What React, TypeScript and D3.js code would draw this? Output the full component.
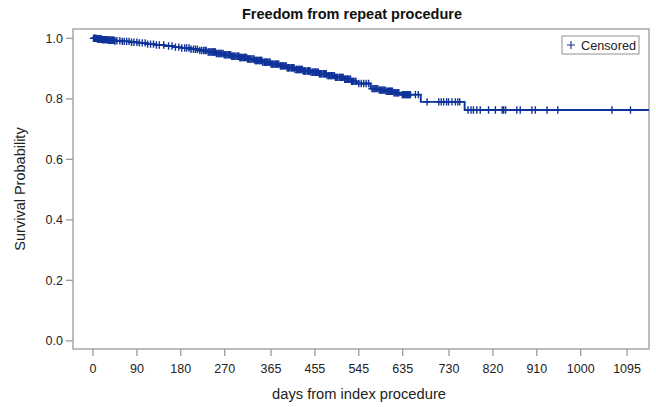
import React from "react";
import * as d3 from "d3";

// ---- data ----
const eventDays = [0, 8, 18, 30, 44, 58, 75, 92, 110, 128, 146, 165, 182, 200, 218, 236, 252, 268, 284, 300, 316, 332, 348, 365, 382, 398, 414, 430, 447, 463, 480, 497, 514, 530, 541, 569, 585, 600, 616, 630, 672, 762];
const eventSurv = [1.0, 0.998, 0.996, 0.994, 0.992, 0.99, 0.987, 0.985, 0.981, 0.978, 0.975, 0.971, 0.968, 0.964, 0.96, 0.955, 0.95, 0.946, 0.941, 0.937, 0.932, 0.927, 0.921, 0.915, 0.909, 0.903, 0.897, 0.892, 0.888, 0.883, 0.877, 0.871, 0.865, 0.858, 0.851, 0.834, 0.829, 0.825, 0.82, 0.814, 0.79, 0.763];
const lastFollowUpDay = 1140;

const censorDays = [
  1, 2, 3, 4, 5, 6, 7, 9, 10, 11, 12, 14, 15, 16, 17, 19, 20, 21, 22, 24, 25, 26, 28, 29, 31, 32, 33, 35, 36, 37, 39, 40, 41, 43, 44, 45,
  49, 55, 60, 64, 69, 74, 79, 84, 90, 95, 101, 107, 112, 118, 124, 130, 136,
  145, 155, 162, 169, 176, 182,
  188, 192, 197, 201, 206, 210, 214, 219, 223, 227, 230, 232, 236, 238, 240,
  242, 244, 246, 247, 249, 251, 253, 256, 258, 260, 262, 264, 267, 269, 271, 273, 275, 278, 280, 282, 284, 286, 287, 289, 291, 293, 296, 298, 299, 301, 302, 304, 306, 309, 311, 313, 315, 317, 319, 320, 322, 324, 326, 329,
  330, 332, 334, 335, 337, 340, 341, 343, 345, 346, 348, 351, 352, 354, 356, 357, 359, 362, 363, 365, 367, 368, 370, 373, 374, 376, 378, 379, 381, 384, 385, 387, 389, 390, 392, 395, 396, 398, 400, 401, 403, 406, 407, 409, 411, 412, 414,
  417, 418, 420, 422, 423, 425, 428, 429, 431, 433, 434, 436, 439, 440, 442, 444, 445, 447, 450, 451, 453, 455, 456, 458, 461, 462, 464, 466, 467, 469, 472, 473, 475, 477, 478, 480, 483, 484, 486, 488, 489, 491, 494, 495, 497,
  499, 500, 502, 505, 506, 508, 510, 511, 513, 516, 517, 519, 521, 522, 524, 527, 528, 530, 532, 533, 535, 538, 539,
  545, 550, 555, 560, 565,
  572, 574, 576, 578, 580, 582, 584, 587, 589, 591, 593, 595, 597, 599, 601, 604, 606, 608, 610, 612, 614, 617, 619, 621, 623, 625, 627,
  634, 636, 637, 639, 640, 642, 643, 645, 646, 648, 649, 651, 661, 667,
  685, 709, 714, 719, 725, 729, 736, 743, 748, 752,
  769, 775, 780, 787, 794, 811, 825, 839, 842, 846, 869, 876, 900, 907, 931, 953, 1064, 1102,
];

const xTickValues = [0, 90, 180, 270, 365, 455, 545, 635, 730, 820, 910, 1000, 1095];
const yTickValues = [0, 0.2, 0.4, 0.6, 0.8, 1.0];

const titleText = "Freedom from repeat procedure";
const xAxisTitle = "days from index procedure";
const yAxisTitle = "Survival Probability";
const legendLabel = "Censored";

// ---- layout ----
const W = 656;
const H = 407;
const frame = { left: 73, right: 649, top: 29, bottom: 349 };
const lineColor = "#0f3399";
const frameColor = "#9c9c9c";
const textColor = "#222";
const font = "'Liberation Sans', Arial, sans-serif";

export default function App() {
  const x = d3.scaleLinear().domain([-41, 1140]).range([frame.left, frame.right]);
  const y = d3.scaleLinear().domain([-0.027, 1.031]).range([frame.bottom, frame.top]);

  const pts: [number, number][] = eventDays.map((d, i) => [d, eventSurv[i]]);
  pts.push([lastFollowUpDay, eventSurv[eventSurv.length - 1]]);

  const line = d3
    .line<[number, number]>()
    .x((d) => x(d[0]))
    .y((d) => y(d[1]))
    .curve(d3.curveStepAfter);

  const survAt = (t: number) => {
    const i = d3.bisectRight(eventDays, t) - 1;
    return eventSurv[Math.max(0, i)];
  };

  const arm = 3.7;

  return (
    <div style={{ position: "absolute", left: 0, top: 0 }}>
      <svg width={W} height={H} style={{ display: "block", background: "#fff" }} fontFamily={font}>
        <rect x={0} y={0} width={W} height={H} fill="#fff" />
        {/* title */}
        <text x={352} y={19} textAnchor="middle" fontSize={14.5} fontWeight="bold" fill="#111">
          {titleText}
        </text>

        {/* frame */}
        <rect
          x={frame.left}
          y={frame.top}
          width={frame.right - frame.left}
          height={frame.bottom - frame.top}
          fill="none"
          stroke={frameColor}
          strokeWidth={1.3}
        />

        {/* y axis */}
        {yTickValues.map((v) => (
          <g key={"y" + v}>
            <line x1={frame.left - 7} x2={frame.left} y1={y(v)} y2={y(v)} stroke={frameColor} strokeWidth={1.3} />
            <text x={frame.left - 10} y={y(v) + 4.5} textAnchor="end" fontSize={12.5} fill={textColor}>
              {v.toFixed(1)}
            </text>
          </g>
        ))}
        <text
          transform={`translate(25,${(frame.top + frame.bottom) / 2}) rotate(-90)`}
          textAnchor="middle"
          fontSize={14.5}
          fill={textColor}
        >
          {yAxisTitle}
        </text>

        {/* x axis */}
        {xTickValues.map((v) => (
          <g key={"x" + v}>
            <line x1={x(v)} x2={x(v)} y1={frame.bottom} y2={frame.bottom + 7} stroke={frameColor} strokeWidth={1.3} />
            <text x={x(v)} y={373} textAnchor="middle" fontSize={12.5} fill={textColor}>
              {v}
            </text>
          </g>
        ))}
        <text x={(frame.left + frame.right) / 2 - 2} y={399} textAnchor="middle" fontSize={14.7} fill={textColor}>
          {xAxisTitle}
        </text>

        {/* survival curve */}
        <path d={line(pts) || ""} fill="none" stroke={lineColor} strokeWidth={1.9} />

        {/* censor marks */}
        {censorDays.map((t, i) => {
          const cx = x(t);
          const cy = y(survAt(t));
          return (
            <path
              key={"c" + i}
              d={`M${cx - arm},${cy}H${cx + arm}M${cx},${cy - arm}V${cy + arm}`}
              stroke={lineColor}
              strokeWidth={1.4}
              fill="none"
            />
          );
        })}

        {/* legend */}
        <rect x={562} y={36} width={77} height={18} fill="#fff" stroke={frameColor} strokeWidth={1.1} />
        <path d="M567,45H575M571,41V49" stroke={lineColor} strokeWidth={1.1} />
        <text x={581} y={50} fontSize={12.7} fill={textColor}>
          {legendLabel}
        </text>
      </svg>
    </div>
  );
}
